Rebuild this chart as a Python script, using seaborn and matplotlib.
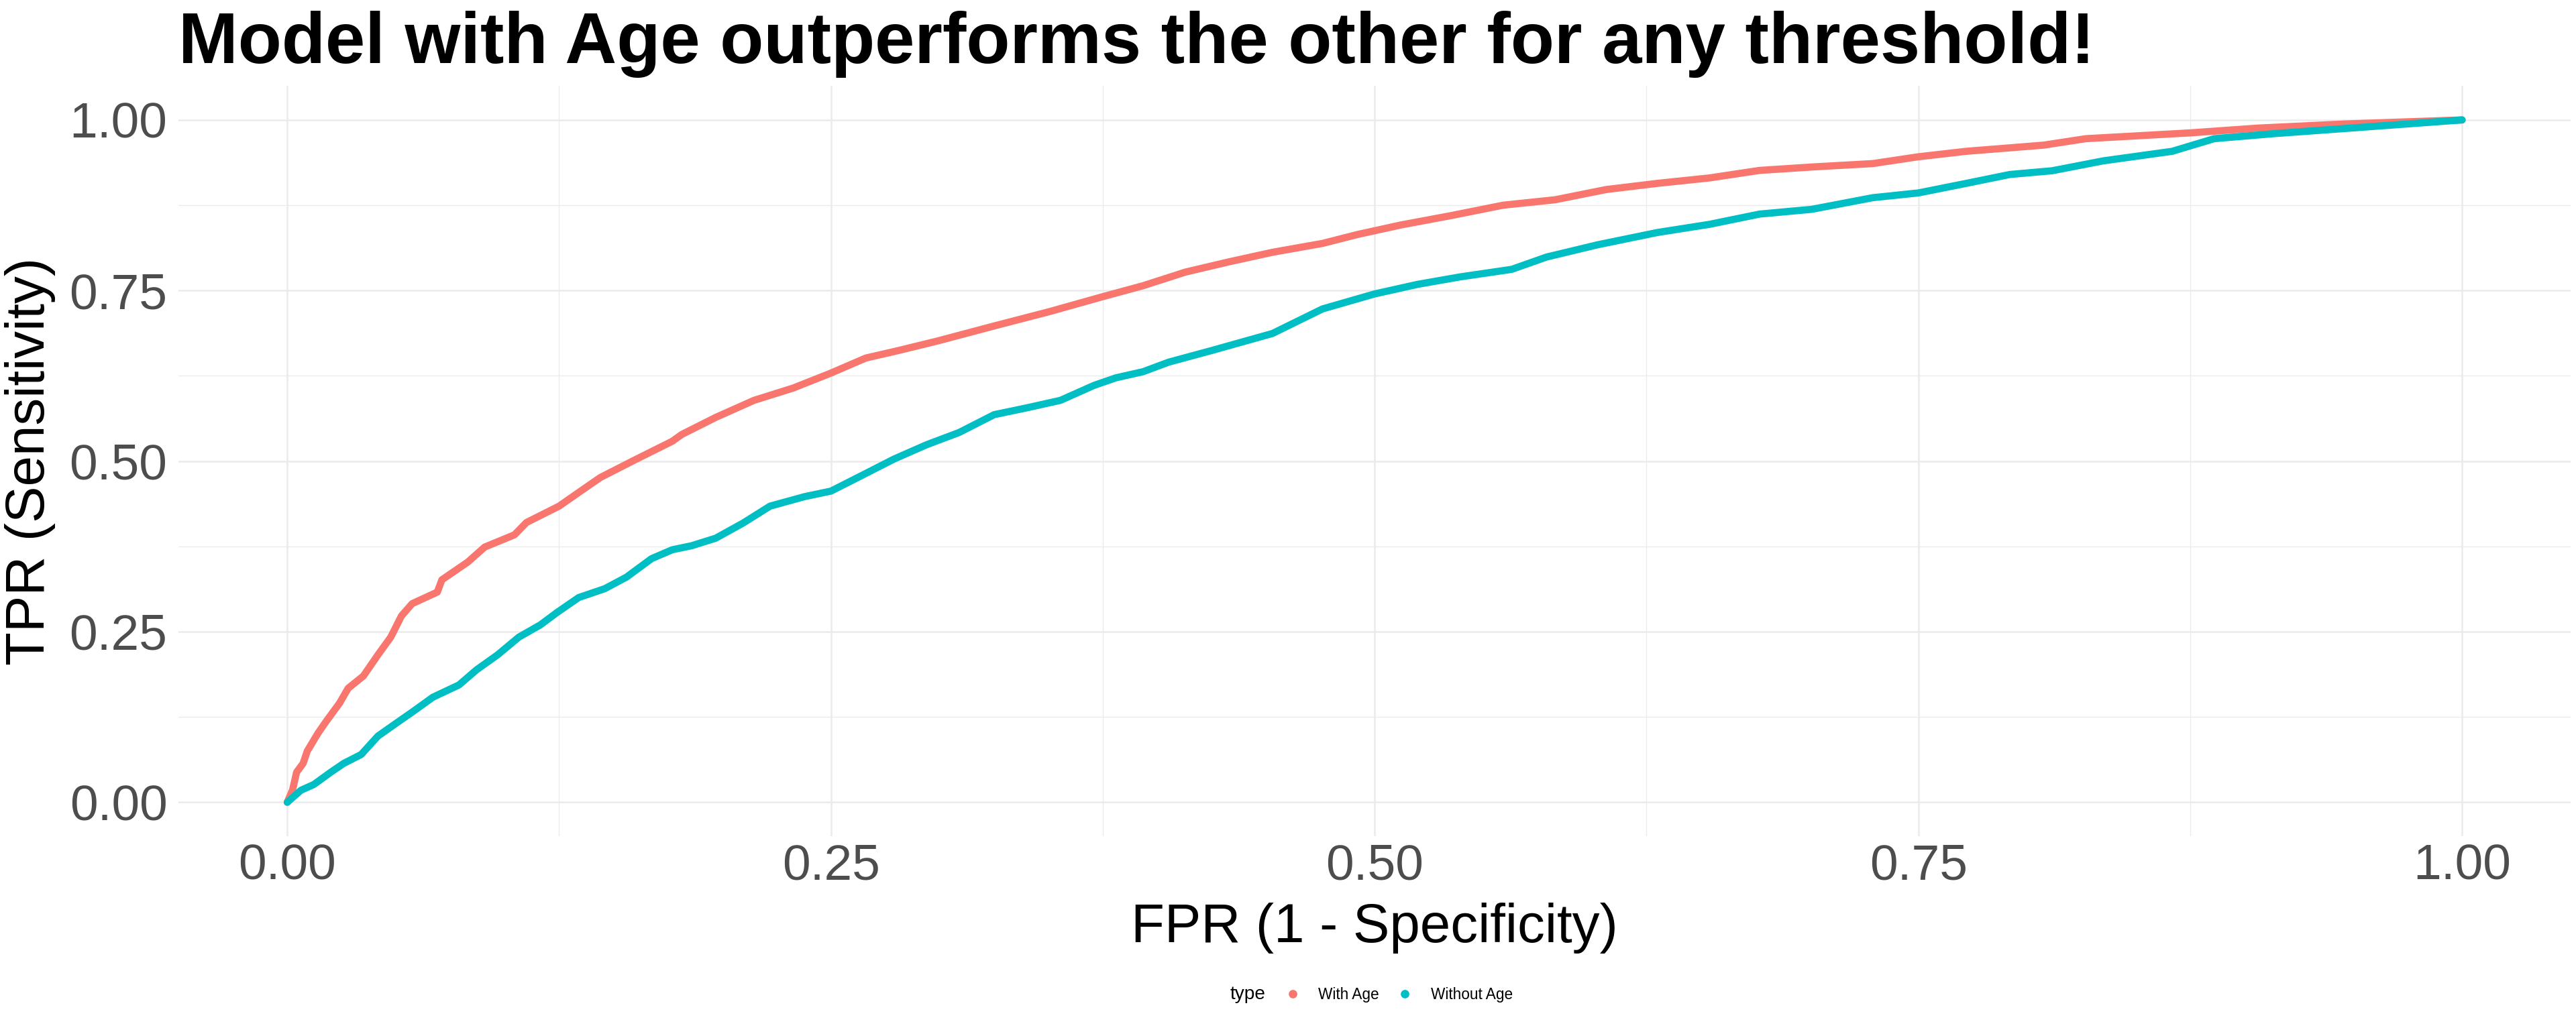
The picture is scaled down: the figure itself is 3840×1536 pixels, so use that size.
import numpy as np
import pandas as pd
import seaborn as sns
import matplotlib.pyplot as plt
from matplotlib.lines import Line2D
from matplotlib.ticker import MultipleLocator

# ROC points
with_age_fpr = [0, 0.0024, 0.0043, 0.0073, 0.0092, 0.0141, 0.018, 0.024, 0.028, 0.035,
                0.0417, 0.0476, 0.0525, 0.0574, 0.069, 0.0711, 0.083, 0.0908, 0.1045, 0.110,
                0.125, 0.134, 0.144, 0.160, 0.177, 0.1814, 0.197, 0.2146, 0.2326, 0.25,
                0.266, 0.281, 0.299, 0.325, 0.3504, 0.375, 0.3935, 0.413, 0.433, 0.453,
                0.476, 0.492, 0.512, 0.5355, 0.559, 0.583, 0.6065, 0.630, 0.654, 0.677,
                0.701, 0.729, 0.75, 0.772, 0.8075, 0.827, 0.875, 0.906, 0.9455, 1.0]
with_age_tpr = [0, 0.0176, 0.044, 0.057, 0.075, 0.101, 0.119, 0.145, 0.167, 0.185,
                0.216, 0.242, 0.273, 0.291, 0.308, 0.326, 0.352, 0.374, 0.392, 0.410,
                0.434, 0.454, 0.476, 0.502, 0.529, 0.539, 0.564, 0.589, 0.607, 0.629,
                0.651, 0.662, 0.676, 0.698, 0.719, 0.741, 0.757, 0.777, 0.792, 0.806,
                0.819, 0.832, 0.846, 0.860, 0.875, 0.883, 0.898, 0.907, 0.915, 0.926,
                0.931, 0.936, 0.946, 0.954, 0.963, 0.9725, 0.981, 0.988, 0.994, 1.0]

without_age_fpr = [0, 0.0063, 0.0122, 0.020, 0.026, 0.034, 0.0417, 0.0495, 0.0574, 0.067,
                   0.079, 0.087, 0.0967, 0.1065, 0.1164, 0.124, 0.134, 0.146, 0.156, 0.1675,
                   0.177, 0.186, 0.197, 0.2095, 0.222, 0.238, 0.25, 0.263, 0.279, 0.294,
                   0.309, 0.325, 0.340, 0.3555, 0.371, 0.381, 0.3935, 0.4053, 0.425, 0.453,
                   0.476, 0.5, 0.5197, 0.5394, 0.563, 0.579, 0.6025, 0.630, 0.654, 0.677,
                   0.701, 0.729, 0.75, 0.772, 0.792, 0.8115, 0.835, 0.8667, 0.886, 0.914,
                   0.953, 1.0]
without_age_tpr = [0, 0.0176, 0.026, 0.044, 0.057, 0.070, 0.097, 0.1145, 0.132, 0.154,
                   0.172, 0.194, 0.216, 0.242, 0.260, 0.278, 0.300, 0.313, 0.330, 0.357,
                   0.370, 0.376, 0.387, 0.409, 0.434, 0.448, 0.456, 0.477, 0.503, 0.524,
                   0.542, 0.568, 0.578, 0.589, 0.611, 0.622, 0.631, 0.645, 0.662, 0.687,
                   0.723, 0.745, 0.759, 0.770, 0.781, 0.799, 0.817, 0.835, 0.847, 0.862,
                   0.869, 0.886, 0.893, 0.907, 0.920, 0.9255, 0.940, 0.954, 0.9725, 0.980,
                   0.989, 1.0]

types = ["With Age", "Without Age"]
colors = {"With Age": "#F8766D", "Without Age": "#00BFC4"}

df = pd.concat([
    pd.DataFrame({"fpr": with_age_fpr, "tpr": with_age_tpr, "type": types[0]}),
    pd.DataFrame({"fpr": without_age_fpr, "tpr": without_age_tpr, "type": types[1]}),
])

sns.set_theme(style="white")
plt.rcParams["font.family"] = ["Liberation Sans", "DejaVu Sans"]

fig = plt.figure(figsize=(16, 6.4), dpi=240)
ax = fig.add_axes([0.0693, 0.188, 0.9287, 0.7287])

sns.lineplot(data=df, x="fpr", y="tpr", hue="type", palette=colors, hue_order=types,
             linewidth=3.2, legend=False, ax=ax, solid_capstyle="round",
             sort=True, estimator=None)

ax.set_xlim(-0.05, 1.05)
ax.set_ylim(-0.05, 1.05)
ax.xaxis.set_major_locator(MultipleLocator(0.25))
ax.yaxis.set_major_locator(MultipleLocator(0.25))
ax.xaxis.set_minor_locator(MultipleLocator(0.125))
ax.yaxis.set_minor_locator(MultipleLocator(0.125))
ax.xaxis.set_major_formatter(lambda v, p: f"{v:.2f}")
ax.yaxis.set_major_formatter(lambda v, p: f"{v:.2f}")
ax.grid(which="major", color="#EBEBEB", linewidth=0.75)
ax.grid(which="minor", color="#EBEBEB", linewidth=0.4)
ax.set_axisbelow(True)
for s in ax.spines.values():
    s.set_visible(False)
ax.tick_params(which="both", length=0)
ax.tick_params(axis="x", labelsize=22.5, labelcolor="#4D4D4D", pad=3)
ax.tick_params(axis="y", labelsize=22.5, labelcolor="#4D4D4D", pad=5)

ax.set_xlabel("FPR (1 - Specificity)", fontsize=24.5, color="black", labelpad=6)
ax.set_ylabel("TPR (Sensitivity)", fontsize=24.5, color="black", labelpad=6)

fig.text(0.0693, 0.939, "Model with Age outperforms the other for any threshold!",
         fontsize=32, fontweight="bold", color="black", ha="left", va="baseline")

handles = [Line2D([], [], linestyle="none", marker="o", markersize=2.8,
                  color=colors[t]) for t in types]
fig.legend(handles, types, loc="center left", bbox_to_anchor=(0.4958, 0.0345),
           ncol=2, frameon=False, fontsize=6.8, handlelength=1.0,
           handletextpad=1.2, columnspacing=1.2, borderpad=0, labelcolor="black")
fig.text(0.4914, 0.0345, "type", fontsize=8.4, color="black", ha="right", va="center")

fig.savefig("out.png", dpi=240)
